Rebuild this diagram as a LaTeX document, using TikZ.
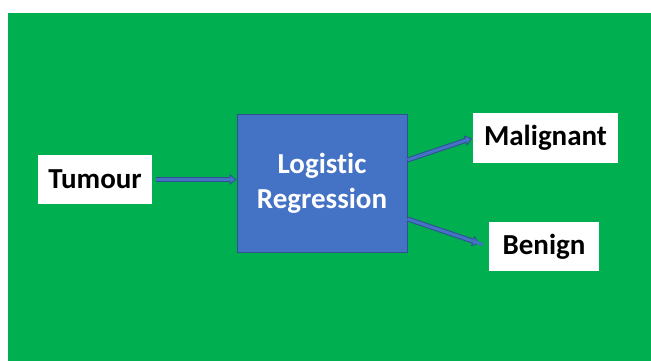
\documentclass[tikz,border=0pt]{standalone}
\usepackage{fontspec}
\setmainfont{Carlito}[RawFeature=-liga]
\usetikzlibrary{arrows.meta,positioning}
\definecolor{slidegreen}{HTML}{00B050}
\definecolor{blueface}{HTML}{4472C4}
\definecolor{blueedge}{HTML}{2F528F}

\tikzset{
  labelbox/.style={fill=white, inner sep=0pt, font=\fontsize{29}{32}\selectfont\bfseries},
  modelbox/.style={fill=blueface, draw=blueedge, line width=1pt, inner sep=0pt,
    align=center, text=white, font=\fontsize{29}{35}\selectfont\bfseries},
  flow/.style={draw=blueedge, line width=5pt,
    -{Triangle[length=7pt,width=11pt,line width=0.8pt,fill=blueface]},
    postaction={draw=blueface, line width=3pt, shorten >=6pt, -}}
}

\begin{document}
\begin{tikzpicture}[x=1pt,y=-1pt]
      \useasboundingbox (0,0) rectangle (651,361);

      % Background
      \fill[white] (0,0) rectangle (651,361);
      \fill[slidegreen] (8,13) rectangle (651,361);

      % Boxes
      \node[labelbox, minimum width=114pt, minimum height=49pt] (tum) at (95,179.5) {Tumour};
      \node[modelbox, minimum width=170pt, minimum height=138pt] (lr) at (322,183) {Logistic\\Regression};
      \node[labelbox, minimum width=145pt, minimum height=50pt] (mal) at (545.5,138) {Malignant};
      \node[labelbox, minimum width=110pt, minimum height=49pt] (ben) at (544,246.5) {Benign};

      % Arrows
      \draw[flow, shorten <=4pt] (tum.east) -- (tum.east -| lr.west);
      \draw[flow, shorten >=1pt] ([yshift=23pt]lr.east) -- (mal.west);
      \draw[flow, shorten >=10pt] ([yshift=-36pt]lr.east) -- (ben.west);
\end{tikzpicture}
\end{document}
